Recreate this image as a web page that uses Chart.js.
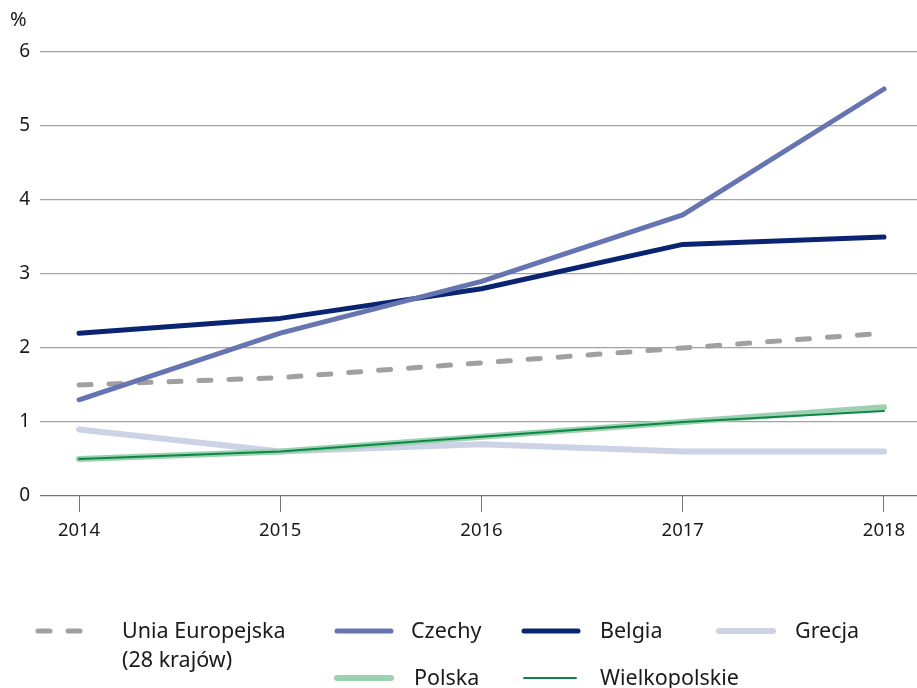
<!DOCTYPE html>
<html>
<head>
<meta charset="utf-8">
<script src="https://cdn.jsdelivr.net/npm/chart.js@4.4.1/dist/chart.umd.min.js"></script>
<style>
  body { margin: 0; background: #fff; font-family: "Noto Sans", sans-serif; color: #1a1a1a; }
  #wrap { position: relative; width: 917px; height: 688px; overflow: hidden; }
  #unit { position: absolute; left: 10px; top: 5px; font-size: 20px; }
  .leg { position: absolute; font-size: 21.5px; line-height: 29px; white-space: nowrap; }
  .sw { position: absolute; }
</style>
</head>
<body>
<div id="wrap">
  <canvas id="lineChart" width="917" height="688"></canvas>
  <div id="unit">%</div>
</div>
<script>
var years = [2014, 2015, 2016, 2017, 2018];
var yTicks = [0, 1, 2, 3, 4, 5, 6];

var ue = [1.5, 1.6, 1.8, 2.0, 2.2];
var czechy = [1.3, 2.2, 2.9, 3.8, 5.5];
var belgia = [2.2, 2.4, 2.8, 3.4, 3.5];
var grecja = [0.9, 0.6, 0.7, 0.6, 0.6];
var polska = [0.5, 0.6, 0.8, 1.0, 1.2];
var wielkopolskie = [0.5, 0.6, 0.8, 1.0, 1.15];

function pts(vals) {
    return vals.map(function (v, i) { return { x: years[i], y: v }; });
}

// legend slots (swatch x range, text x, row centre y)
var legendPos = [
    { x1: 38, x2: 81, tx: 122, y: 631 },
    { x1: 337, x2: 391, tx: 411, y: 631 },
    { x1: 524, x2: 578, tx: 600, y: 631 },
    { x1: 719, x2: 773, tx: 795, y: 631 },
    { x1: 337, x2: 391, tx: 414, y: 678 },
    { x1: 524, x2: 576, tx: 600, y: 678 }
];

var series = [
    { label: 'Unia Europejska\n(28 krajów)', data: ue, color: '#a0a0a0', width: 5, dash: [12, 18], order: 5 },
    { label: 'Czechy', data: czechy, color: '#6675b1', width: 5, dash: [], order: 3 },
    { label: 'Belgia', data: belgia, color: '#0b2472', width: 5, dash: [], order: 4 },
    { label: 'Grecja', data: grecja, color: '#cdd2e6', width: 6, dash: [], order: 6 },
    { label: 'Polska', data: polska, color: '#9dd0b2', width: 6, dash: [], order: 2 },
    { label: 'Wielkopolskie', data: wielkopolskie, color: '#0a8843', width: 2, dash: [], order: 1 }
];

var ctx = document.getElementById('lineChart').getContext('2d');
var chart = new Chart(ctx, {
    type: 'line',
    data: {
        datasets: series.map(function (s) {
            return {
                label: s.label,
                data: pts(s.data),
                borderColor: s.color,
                backgroundColor: s.color,
                borderWidth: s.width,
                borderDash: s.dash,
                borderCapStyle: 'round',
                borderJoinStyle: 'round',
                pointRadius: 0,
                fill: false,
                order: s.order
            };
        })
    },
    options: {
        responsive: false,
        animation: false,
        elements: { line: { tension: 0 } },
        layout: { padding: { top: 52, left: 0, right: 0, bottom: 130 } },
        plugins: { legend: { display: false }, tooltip: { enabled: false } },
        scales: {
            x: {
                type: 'linear',
                min: 2013.806,
                max: 2018.164,
                afterBuildTicks: function (scale) {
                    scale.ticks = years.map(function (v) { return { value: v }; });
                },
                afterFit: function (scale) { scale.height = 62; },
                border: { display: false },
                grid: {
                    drawOnChartArea: false,
                    drawTicks: true,
                    tickLength: 16,
                    color: '#777',
                    lineWidth: 1
                },
                ticks: {
                    color: '#1a1a1a',
                    padding: 8,
                    maxRotation: 0,
                    font: { family: 'Noto Sans', size: 18.5 },
                    callback: function (v) { return String(v); }
                }
            },
            y: {
                min: 0,
                max: 6,
                afterBuildTicks: function (scale) {
                    scale.ticks = yTicks.map(function (v) { return { value: v }; });
                },
                afterFit: function (scale) { scale.width = 40; },
                border: { display: false },
                grid: {
                    drawTicks: false,
                    color: function (c) { return c.tick && c.tick.value === 0 ? '#777' : '#a3a3a3'; },
                    lineWidth: 1.3
                },
                ticks: {
                    color: '#1a1a1a',
                    padding: 10,
                    font: { family: 'Noto Sans', size: 19 }
                }
            }
        }
    }
});

// HTML legend built from the same series
var wrap = document.getElementById('wrap');
series.forEach(function (s, i) {
    var p = legendPos[i];
    var svg = document.createElementNS('http://www.w3.org/2000/svg', 'svg');
    svg.setAttribute('class', 'sw');
    svg.setAttribute('width', p.x2 - p.x1 + 10);
    svg.setAttribute('height', 12);
    svg.style.left = (p.x1 - 5) + 'px';
    svg.style.top = (p.y - 6) + 'px';
    var ln = document.createElementNS('http://www.w3.org/2000/svg', 'line');
    ln.setAttribute('x1', 5);
    ln.setAttribute('x2', p.x2 - p.x1 + 5);
    ln.setAttribute('y1', 6);
    ln.setAttribute('y2', 6);
    ln.setAttribute('stroke', s.color);
    ln.setAttribute('stroke-width', s.width);
    ln.setAttribute('stroke-linecap', 'round');
    if (s.dash.length) ln.setAttribute('stroke-dasharray', s.dash.join(' '));
    svg.appendChild(ln);
    wrap.appendChild(svg);

    var t = document.createElement('div');
    t.className = 'leg';
    t.style.left = p.tx + 'px';
    t.style.top = (p.y - 16) + 'px';
    t.innerHTML = s.label.split('\n').join('<br>');
    wrap.appendChild(t);
});
</script>
</body>
</html>
